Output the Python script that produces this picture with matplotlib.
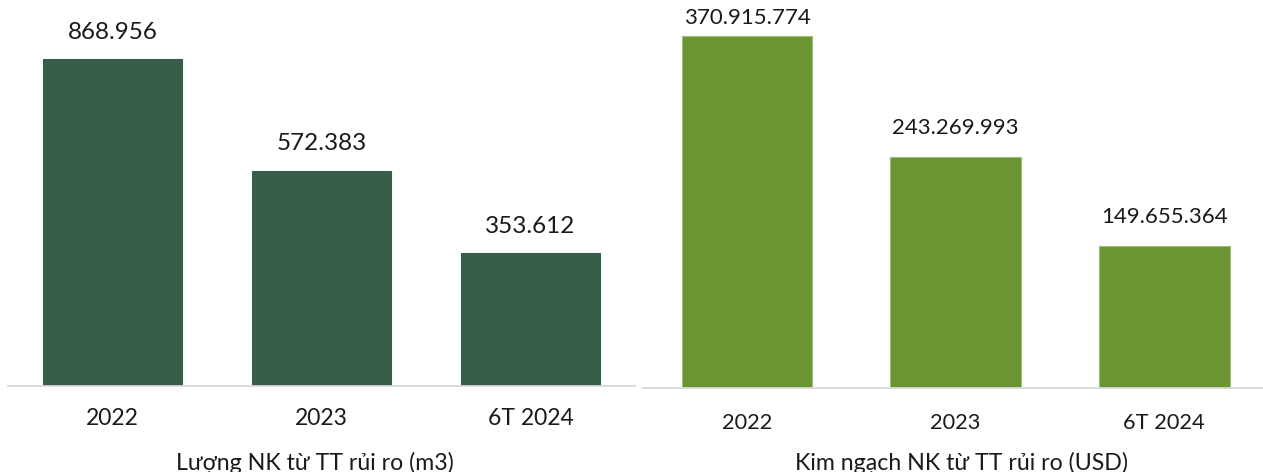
import matplotlib.pyplot as plt

years = ["2022", "2023", "6T 2024"]
volume = [868956, 572383, 353612]
value_usd = [370915774, 243269993, 149655364]

left_title = "Lượng NK từ TT rủi ro (m3)"
right_title = "Kim ngạch NK từ TT rủi ro (USD)"

W, H = 1263, 472
plt.rcParams['font.family'] = ['Lato', 'DejaVu Sans']


def fmt(v):
	return f"{v:,}".replace(",", ".")


def px_axes(fig, x0, y0, w, h):
	# pixel box measured from top-left of the picture
	return fig.add_axes([x0 / W, 1 - (y0 + h) / H, w / W, h / H])


def panel(ax, values, color, edge, width, ymax, title, tick_size, tick_pad,
		label_size, label_gap, title_size, title_x, title_y):
	xs = range(len(values))
	ax.bar(xs, values, width=width, color=color, edgecolor=edge, linewidth=0.8, zorder=2)
	ax.set_xlim(-0.5, 2.5)
	ax.set_ylim(0, ymax)
	for s in ["top", "right", "left"]:
		ax.spines[s].set_visible(False)
	ax.spines["bottom"].set_color("#D9D9D9")
	ax.spines["bottom"].set_linewidth(1.3)
	ax.set_yticks([])
	ax.set_xticks(list(xs))
	ax.set_xticklabels(years, fontsize=tick_size, color="#1a1a1a")
	ax.tick_params(axis="x", length=0, pad=tick_pad)
	# keep value labels inside the picture
	top = ax.transData.inverted().transform((0, ax.transAxes.transform((0, 1))[1] - 10))[1]
	for x, v in zip(xs, values):
		disp = ax.transData.transform((x, v))[1] + label_gap
		yy = ax.transData.inverted().transform((0, disp))[1]
		yy = min(yy, top)
		ax.text(x, yy, fmt(v), ha="center", va="center", fontsize=label_size, color="#1a1a1a")
	ax.text(title_x, title_y, title, transform=ax.transAxes, ha="center", va="center",
		fontsize=title_size, color="#1a1a1a")


fig = plt.figure(figsize=(W / 100, H / 100), dpi=100)

axl = px_axes(fig, 8, 10, 627, 376)
panel(axl, volume, "#375E49", "#375E49", 0.665, 1000000, left_title,
	16.5, 16, 17.5, 27, 16.7, 0.49, -0.205)

axr = px_axes(fig, 642.6, 8.4, 626, 379.6)
panel(axr, value_usd, "#6A9532", "#9DBD78", 0.626, 400000000, right_title,
	15.7, 18, 16, 29, 16.7, 0.51, -0.197)

fig.savefig("out.png", dpi=100)
